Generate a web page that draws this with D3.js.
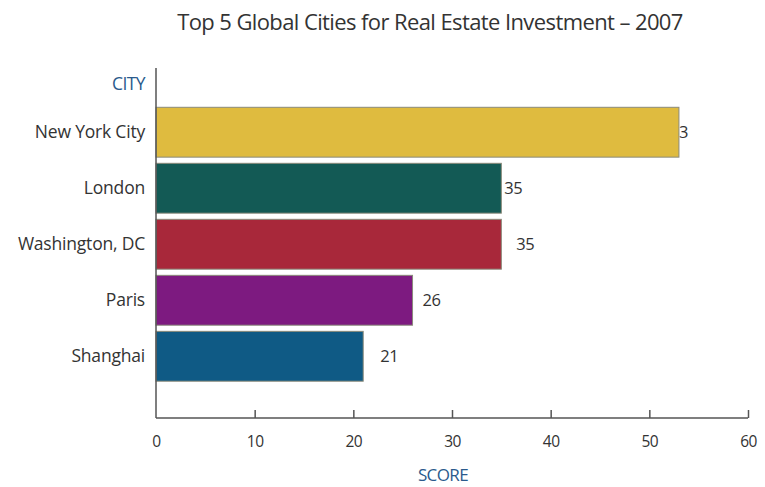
<!DOCTYPE html>
<html>
<head>
<meta charset="utf-8">
<script src="https://cdn.jsdelivr.net/npm/d3@7"></script>
<style>
  html, body { margin: 0; padding: 0; background: #fff; }
  svg { display: block; }
  text { font-family: "Open Sans", "Noto Sans", sans-serif; }
</style>
</head>
<body>
<svg id="chart" width="765" height="487"></svg>
<script>
// Chart data
const cities = ["New York City", "London", "Washington, DC", "Paris", "Shanghai"];
const scores = [53, 35, 35, 26, 21];
const barColors = ["#dfbb3f", "#135a55", "#a8283a", "#7d1a80", "#0f5a85"];
const xTicks = [0, 10, 20, 30, 40, 50, 60];
// horizontal nudge of each value label relative to its bar end
const labelNudge = [-9, 3, 15, 10, 17];

const svg = d3.select("#chart");
const plotLeft = 156, plotRight = 748, plotTop = 68, plotBottom = 418;

const x = d3.scaleLinear().domain([0, 60]).range([plotLeft, plotRight]);
const y = d3.scaleBand().domain(cities).range([104.5, 384])
  .paddingInner(0.11).paddingOuter(0.05);

// title
svg.append("text")
  .attr("x", 430).attr("y", 30)
  .attr("text-anchor", "middle")
  .attr("font-size", 22)
  .attr("fill", "#333")
  .attr("letter-spacing", -0.6)
  .text("Top 5 Global Cities for Real Estate Investment \u2013 2007");

const rows = cities.map((c, i) => ({ city: c, score: scores[i], color: barColors[i], nudge: labelNudge[i] }));

// value labels (drawn first so the bar can overlap them)
svg.append("g").selectAll("text").data(rows).join("text")
  .attr("x", d => x(d.score) + d.nudge)
  .attr("y", d => y(d.city) + y.bandwidth() / 2)
  .attr("dy", "0.35em")
  .attr("font-size", 16.5)
  .attr("fill", "#333")
  .attr("letter-spacing", -0.4)
  .text(d => d.score);

// bars
svg.append("g").selectAll("rect").data(rows).join("rect")
  .attr("x", x(0))
  .attr("y", d => y(d.city))
  .attr("width", d => x(d.score) - x(0))
  .attr("height", y.bandwidth())
  .attr("fill", d => d.color)
  .attr("stroke", "#8a8a7a")
  .attr("stroke-width", 1);

// category labels
svg.append("g").selectAll("text").data(rows).join("text")
  .attr("x", plotLeft - 11)
  .attr("y", d => y(d.city) + y.bandwidth() / 2)
  .attr("dy", "0.35em")
  .attr("text-anchor", "end")
  .attr("font-size", 17.5)
  .attr("fill", "#333")
  .attr("letter-spacing", -0.2)
  .text(d => d.city);

// y axis line
svg.append("line")
  .attr("x1", plotLeft).attr("x2", plotLeft)
  .attr("y1", plotTop).attr("y2", plotBottom)
  .attr("stroke", "#555").attr("stroke-width", 1.5);

// x axis with upward ticks
const xAxis = d3.axisBottom(x)
  .tickValues(xTicks)
  .tickSize(0)
  .tickPadding(0)
  .tickFormat(d3.format("d"));
const gx = svg.append("g").attr("transform", `translate(0,${plotBottom})`).call(xAxis);
gx.select(".domain").attr("stroke", "#555").attr("stroke-width", 1.5).attr("d", `M${plotLeft},0H${plotRight}`);
gx.selectAll(".tick line")
  .attr("y1", 0).attr("y2", d => d === 0 ? 0 : -8)
  .attr("stroke", "#555").attr("stroke-width", 1.5);
gx.selectAll(".tick text")
  .attr("y", 29)
  .attr("dy", 0)
  .attr("font-size", 15.5)
  .attr("fill", "#333")
  .attr("letter-spacing", -0.5)
  .attr("font-family", "\"Open Sans\", \"Noto Sans\", sans-serif");

// axis titles
svg.append("text")
  .attr("x", plotLeft - 11).attr("y", 90)
  .attr("text-anchor", "end")
  .attr("font-size", 17.5)
  .attr("fill", "#2a5a8c")
  .attr("letter-spacing", -0.6)
  .text("CITY");

svg.append("text")
  .attr("x", 443).attr("y", 481)
  .attr("text-anchor", "middle")
  .attr("font-size", 17)
  .attr("fill", "#2a5a8c")
  .attr("letter-spacing", -0.6)
  .text("SCORE");
</script>
</body>
</html>
